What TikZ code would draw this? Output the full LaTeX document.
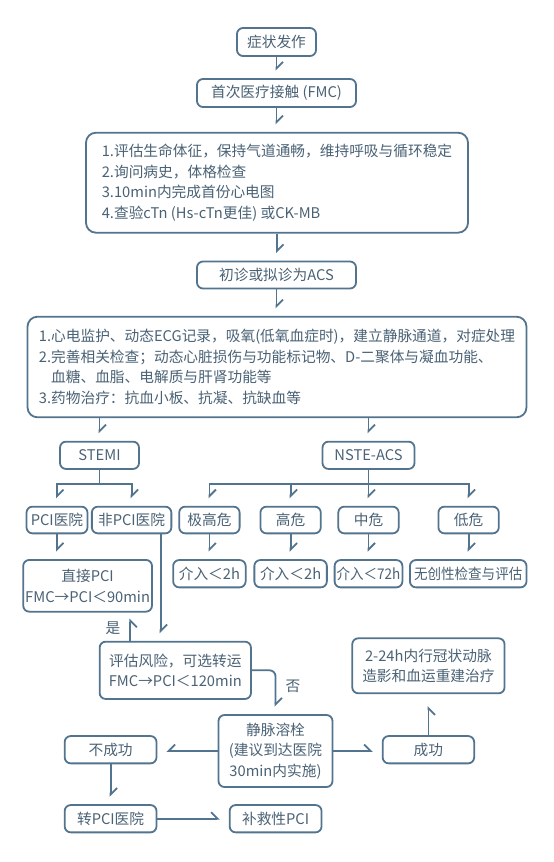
\documentclass[tikz,border=0pt]{standalone}
\usepackage{fontspec}
\setmainfont{Noto Sans CJK SC}
\usepackage{graphicx}
\usetikzlibrary{arrows.meta}
\definecolor{flowline}{RGB}{82,116,142}
\definecolor{flowtext}{RGB}{74,98,117}
\newcommand{\flowbox}[3]{
	\node[box, #3, minimum width = #1, minimum height = #2] 
}
\newcommand{\squeeze}[1]{\scalebox{0.92}[1]{#1}}
\tikzset{
	box/.style = {draw = flowline, line width = 1.8pt, rounded corners = 6pt, fill = white, text = flowtext, inner xsep = 2pt, inner ysep = 2pt, align = center, font = \fontsize{14.7}{20.5}\selectfont},
	link/.style = {draw = flowline, line width = 1.8pt},
	arrdown/.style = {link, -{Straight Barb[left, length = 6.5pt, width = 13pt]}, shorten > = 7.5pt},
	arrup/.style = {link, -{Straight Barb[right, length = 6.5pt, width = 13pt]}, shorten > = 6pt},
	arrleft/.style = {link, -{Straight Barb[right, length = 6.5pt, width = 13pt]}, shorten > = 9pt},
	arrright/.style = {link, -{Straight Barb[left, length = 6.5pt, width = 13pt]}, shorten > = 9pt},
	lbl/.style = {text = flowtext, font = \fontsize{14.7}{20.5}\selectfont, inner sep = 0pt}
}

\begin{document}
\begin{tikzpicture}[x = 1pt, y = -1pt]

		\fill[white] (0,0) rectangle (554,862);
		\useasboundingbox (0,0) rectangle (554,862);

		\flowbox{79}{28}{} (sym) at (276.5,42) {症状发作};
		\flowbox{159}{28}{} (fmc) at (276.5,93) {首次医疗接触 (FMC)};
		\flowbox{382}{100}{align = left, rounded corners = 10pt} (check) at (277,182.7) {1.评估生命体征，保持气道通畅，维持呼吸与循环稳定\\2.询问病史，体格检查\\3.10min内完成首份心电图\\4.查验cTn (Hs-cTn更佳) 或CK-MB};
		\flowbox{159}{27}{} (acs) at (276.5,275) {初诊或拟诊为ACS};
		\flowbox{499}{100.6}{align = left, rounded corners = 10pt} (care) at (277,367) {1.心电监护、动态ECG记录，吸氧(低氧血症时)，建立静脉通道，对症处理\\2.完善相关检查；动态心脏损伤与功能标记物、D-二聚体与凝血功能、\\\phantom{2.}血糖、血脂、电解质与肝肾功能等\\3.药物治疗：抗血小板、抗凝、抗缺血等};

		\flowbox{79}{27.3}{} (stemi) at (99.5,455.3) {STEMI};
		\flowbox{92}{27.3}{} (nste) at (368.5,455.3) {NSTE-ACS};

		\flowbox{61}{26.7}{} (pci) at (57,520) {PCI医院};
		\flowbox{79.5}{26.7}{} (npci) at (131.6,520) {非PCI医院};
		\flowbox{60.4}{26.7}{} (vhigh) at (209.4,520) {极高危};
		\flowbox{60.4}{26.7}{} (high) at (290.6,520) {高危};
		\flowbox{60.4}{26.7}{} (mid) at (368.5,520) {中危};
		\flowbox{60.4}{26.7}{} (low) at (468.6,520) {低危};

		\flowbox{72.5}{27.3}{} (inv1) at (209.4,573.7) {介入＜2h};
		\flowbox{72.5}{27.3}{} (inv2) at (290.6,573.7) {介入＜2h};
		\flowbox{67}{27.3}{} (inv3) at (368.5,573.7) {\squeeze{介入＜72h}};
		\flowbox{116.6}{27.3}{} (ninv) at (468.2,573.7) {\squeeze{无创性检查与评估}};
		\flowbox{120}{51.7}{} (direct) at (87.6,585.8) {直接PCI\\FMC→PCI＜90min};

		\flowbox{151.3}{57.3}{} (risk) at (175.3,670.3) {评估风险，可选转运\\FMC→PCI＜120min};
		\flowbox{152.3}{55}{} (cag) at (428.4,665.8) {2-24h内行冠状动脉\\造影和血运重建治疗};
		\flowbox{114}{72}{} (lysis) at (275.5,751) {静脉溶栓\\(建议到达医院\\30min内实施)};
		\flowbox{91.8}{27.3}{} (fail) at (110.6,749.7) {不成功};
		\flowbox{91.5}{27.3}{} (succ) at (428.4,749.7) {成功};
		\flowbox{91.8}{27.3}{} (trans) at (110.6,818.7) {转PCI医院};
		\flowbox{91.9}{27.3}{} (rescue) at (275.6,818.7) {补救性PCI};

		\node[lbl] (yes) at (113,628) {是};
		\node[lbl] (no) at (293,686) {否};

		\draw[arrdown] (sym.south) -- (sym.south |- fmc.north);
		\draw[arrdown] (fmc.south) -- (fmc.south |- check.north);
		\draw[arrdown] (check.south) -- (check.south |- acs.north);
		\draw[arrdown] (acs.south) -- (acs.south |- care.north);
		\draw[arrdown] (stemi.north |- care.south) -- (stemi.north);
		\draw[arrdown] (nste.north |- care.south) -- (nste.north);

		\path (stemi.south) ++(0,14) coordinate (sfork);
		\path (nste.south) ++(0,14) coordinate (nfork);
		\draw[link] (stemi.south) -- (sfork);
		\draw[link] (nste.south) -- (nfork);
		\foreach \n in {pci, npci} \draw[arrdown] (sfork) -| (\n);
		\foreach \n in {vhigh, high, mid, low} \draw[arrdown] (nfork) -| (\n);
		\foreach \a/\b in {vhigh/inv1, high/inv2, mid/inv3, low/ninv, pci/direct} \draw[arrdown] (\a.south) -- (\a.south |- \b.north);

		\draw[arrdown] ([xshift = 29]npci.south) -- ([xshift = 29]npci.south |- risk.north);
		\draw[arrup] ([xshift = -45]risk.north) -- ([xshift = -45]risk.north |- direct.south);
		\draw[arrdown, rounded corners = 6pt] (risk.east) -| (lysis.north);
		\draw[arrleft] (lysis.west) -- (lysis.west -| fail.east);
		\draw[arrright] (lysis.east) -- (lysis.east -| succ.west);
		\draw[arrup, shorten > = 12pt] (succ.north) -- (succ.north |- cag.south);
		\draw[arrdown] (fail.south) -- (fail.south |- trans.north);
		\draw[arrright] (trans.east) -- (trans.east -| rescue.west);
	\end{tikzpicture}
\end{document}
